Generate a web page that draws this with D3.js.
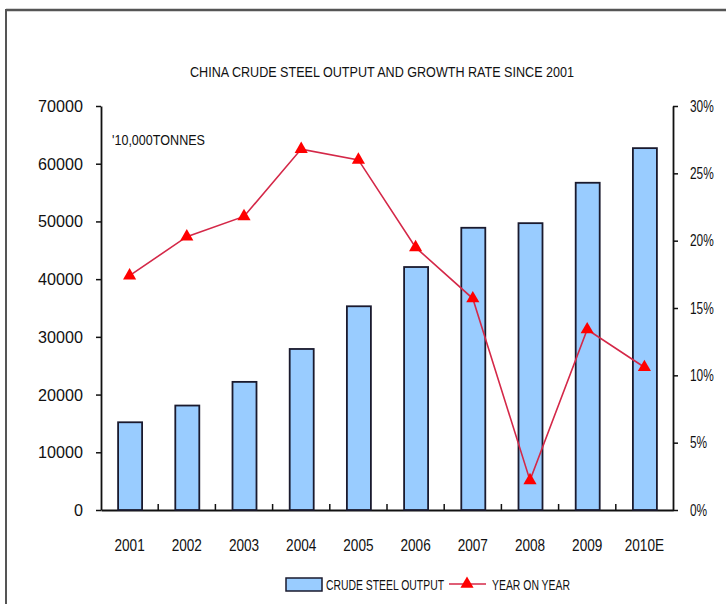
<!DOCTYPE html>
<html>
<head>
<meta charset="utf-8">
<script src="https://cdn.jsdelivr.net/npm/d3@7"></script>
<style>
  html, body { margin: 0; padding: 0; background: #fff; }
  svg text { font-family: "Liberation Sans", Arial, sans-serif; fill: #111; }
</style>
</head>
<body>
<svg id="chart" width="726" height="604"></svg>
<script>
// Years on the category axis
const years = ["2001", "2002", "2003", "2004", "2005", "2006", "2007", "2008", "2009", "2010E"];
// Crude steel output, 10,000 tonnes
const output = [15200, 18100, 22200, 27900, 35300, 42100, 48900, 49700, 56700, 62700];
// Year-on-year growth, %
const growth = [17.4, 20.3, 21.8, 26.8, 26.0, 19.5, 15.7, 2.2, 13.4, 10.6];
// Axis ticks
const leftTicks = [0, 10000, 20000, 30000, 40000, 50000, 60000, 70000];
const rightTicks = [0, 5, 10, 15, 20, 25, 30];

const svg = d3.select("#chart");
const plot = { left: 101, right: 673, top: 106, bottom: 510 };

// Squeeze text horizontally around its anchor point to get a condensed face
function narrow(sel, sx) {
  sel.each(function () {
    const t = d3.select(this);
    const x0 = +t.attr("x") || 0;
    t.attr("x", 0).attr("transform", `translate(${x0},0) scale(${sx},1)`);
  });
}

// Frame lines along the top and left edges
svg.append("line").attr("x1", 6).attr("x2", 726).attr("y1", 10).attr("y2", 10)
  .attr("stroke", "#555").attr("stroke-width", 2.5);
svg.append("line").attr("x1", 6).attr("x2", 6).attr("y1", 9).attr("y2", 604)
  .attr("stroke", "#555").attr("stroke-width", 2);

svg.append("text").attr("x", 190).attr("y", 77)
  .attr("font-size", 14.5).attr("textLength", 384).attr("lengthAdjust", "spacingAndGlyphs")
  .text("CHINA CRUDE STEEL OUTPUT AND GROWTH RATE SINCE 2001");

const x = d3.scaleBand().domain(years).range([plot.left, plot.right]);
const yL = d3.scaleLinear().domain([0, 70000]).range([plot.bottom, plot.top]);
const yR = d3.scaleLinear().domain([0, 30]).range([plot.bottom, plot.top]);

// Left axis
const gL = svg.append("g").attr("transform", `translate(${plot.left},0)`)
  .call(d3.axisLeft(yL).tickValues(leftTicks).tickSize(5).tickSizeOuter(0).tickPadding(13).tickFormat(d3.format("d")));
// Right axis
const gR = svg.append("g").attr("transform", `translate(${plot.right},0)`)
  .call(d3.axisRight(yR).tickValues(rightTicks).tickSize(5).tickSizeOuter(0).tickPadding(12).tickFormat(d => d + "%"));
// Bottom axis with ticks between categories
const gB = svg.append("g").attr("transform", `translate(0,${plot.bottom})`)
  .call(d3.axisBottom(x).tickSize(0).tickPadding(29));
gB.selectAll(".sep").data(years.slice(1)).join("line").attr("class", "sep")
  .attr("x1", d => x(d)).attr("x2", d => x(d)).attr("y1", 0).attr("y2", -6)
  .attr("stroke", "#111").attr("stroke-width", 1.5);

[gL, gR, gB].forEach(g => {
  g.select(".domain").attr("stroke", "#111").attr("stroke-width", 1.8);
  g.selectAll(".tick line").attr("stroke", "#111").attr("stroke-width", 1.5);
  g.selectAll("text").attr("fill", "#111")
    .style("font-family", '"Liberation Sans", Arial, sans-serif');
});
gL.selectAll("text").attr("font-size", 17);
narrow(gL.selectAll(".tick text"), 0.95);
gR.selectAll("text").attr("font-size", 16.5);
narrow(gR.selectAll(".tick text"), 0.72);
gB.selectAll("text").attr("font-size", 17);
narrow(gB.selectAll(".tick text"), 0.8);

svg.append("text").attr("x", 112).attr("y", 145).attr("font-size", 14)
  .attr("textLength", 93).attr("lengthAdjust", "spacingAndGlyphs").text("'10,000TONNES");

// Bars
const barW = 24;
svg.append("g").selectAll("rect").data(years).join("rect")
  .attr("x", d => x(d) + x.bandwidth() / 2 - barW / 2 + 0.5)
  .attr("width", barW)
  .attr("y", (d, i) => yL(output[i]))
  .attr("height", (d, i) => plot.bottom - yL(output[i]))
  .attr("fill", "#99ccff").attr("stroke", "#1a1a2e").attr("stroke-width", 1.8);

// Growth line
const cx = d => x(d) + x.bandwidth() / 2;
const line = d3.line().x((d, i) => cx(years[i])).y(d => yR(d));
svg.append("path").datum(growth).attr("d", line)
  .attr("fill", "none").attr("stroke", "#d42848").attr("stroke-width", 1.6);
const tri = d3.symbol().type(d3.symbolTriangle).size(75);
svg.append("g").selectAll("path").data(growth).join("path")
  .attr("d", tri)
  .attr("transform", (d, i) => `translate(${cx(years[i])},${yR(d)})`)
  .attr("fill", "#ff0000");

// Legend
const lg = svg.append("g");
lg.append("rect").attr("x", 286).attr("y", 578).attr("width", 36).attr("height", 13)
  .attr("fill", "#99ccff").attr("stroke", "#1a1a2e").attr("stroke-width", 1.5);
lg.append("text").attr("x", 326).attr("y", 590).attr("font-size", 14)
  .attr("textLength", 118).attr("lengthAdjust", "spacingAndGlyphs").text("CRUDE STEEL OUTPUT");
lg.append("line").attr("x1", 449).attr("x2", 486).attr("y1", 584).attr("y2", 584)
  .attr("stroke", "#d42848").attr("stroke-width", 1.6);
lg.append("path").attr("d", tri).attr("transform", "translate(467,584)").attr("fill", "#ff0000");
lg.append("text").attr("x", 492).attr("y", 590).attr("font-size", 14)
  .attr("textLength", 78).attr("lengthAdjust", "spacingAndGlyphs").text("YEAR ON YEAR");
</script>
</body>
</html>
